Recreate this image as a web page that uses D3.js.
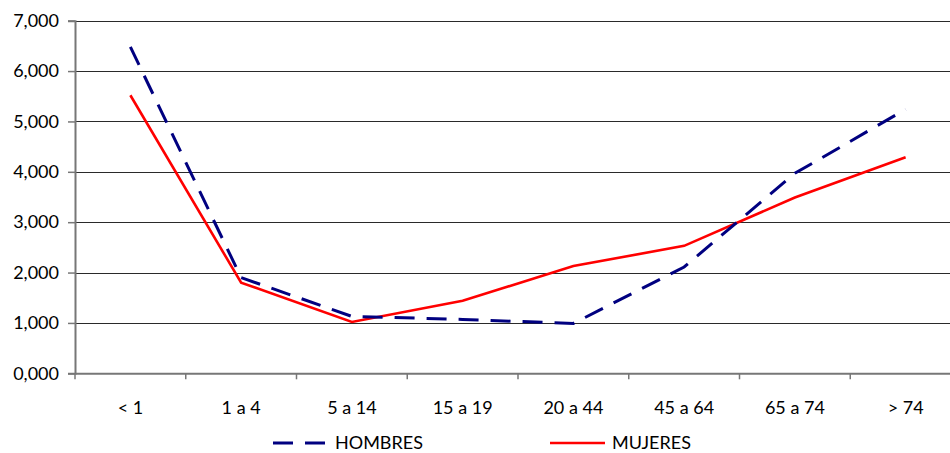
<!DOCTYPE html>
<html><head><meta charset="utf-8">
<script src="https://cdn.jsdelivr.net/npm/d3@7"></script>
<style>body{margin:0;background:#fff;}svg{display:block;font-family:Lato,"Open Sans",sans-serif;}</style>
</head><body>
<svg id="c" width="950" height="453"></svg>
<script>
const categories = ["< 1","1 a 4","5 a 14","15 a 19","20 a 44","45 a 64","65 a 74","> 74"];
const hombres = [6480,1900,1130,1070,990,2110,3970,5240];
const mujeres = [5520,1800,1020,1440,2130,2530,3490,4290];
const yTicks = [0,1000,2000,3000,4000,5000,6000,7000];
const seriesNames = ["HOMBRES","MUJERES"];

const svg = d3.select("#c");
const mLeft = 75, mRight = 961, mTop = 20.7, mBottom = 373.3;
const x = d3.scaleBand().domain(categories).range([mLeft,mRight]);
const y = d3.scaleLinear().domain([0,7000]).range([mBottom,mTop]);
const fmt = v => d3.format(".3f")(v/1000).replace(".",",");
const fs = 18;

// gridlines
svg.append("g").selectAll("line").data(yTicks.slice(1)).join("line")
  .attr("x1",mLeft).attr("x2",950).attr("y1",d=>Math.round(y(d))+0.5).attr("y2",d=>Math.round(y(d))+0.5)
  .attr("stroke","#2a2a2a").attr("stroke-width",1);

// y axis
const yAxis = svg.append("g").attr("transform",`translate(${mLeft},0)`)
  .call(d3.axisLeft(y).tickValues(yTicks).tickSize(7).tickPadding(9).tickFormat(fmt));
yAxis.select(".domain").attr("stroke","#777").attr("stroke-width",2);
yAxis.selectAll(".tick line").attr("stroke","#777").attr("stroke-width",1.5);
yAxis.selectAll("text").attr("font-size",fs).attr("fill","#000").attr("font-family","Lato");

// x axis
const xAxis = svg.append("g").attr("transform",`translate(0,${mBottom})`)
  .call(d3.axisBottom(x).tickSize(0).tickPadding(28));
xAxis.select(".domain").attr("stroke","#777").attr("stroke-width",2);
xAxis.selectAll("text").attr("font-size",fs).attr("fill","#000").attr("font-family","Lato");
svg.append("g").selectAll("line").data(categories).join("line")
  .attr("x1",d=>x(d)).attr("x2",d=>x(d)).attr("y1",mBottom).attr("y2",mBottom+6)
  .attr("stroke","#777").attr("stroke-width",1.5);

const line = d3.line().x((d,i)=>x(categories[i])+x.bandwidth()/2).y(d=>y(d));
svg.append("path").datum(mujeres).attr("d",line).attr("fill","none")
  .attr("stroke","#ff0000").attr("stroke-width",2.6);
svg.append("path").datum(hombres).attr("d",line).attr("fill","none")
  .attr("stroke","#000080").attr("stroke-width",3).attr("stroke-dasharray","20,12");

// legend
const leg = [{name:seriesNames[0],x1:273,x2:327,tx:335,color:"#000080",dash:"20,12",w:3},
             {name:seriesNames[1],x1:550,x2:605,tx:612,color:"#ff0000",dash:null,w:2.6}];
const lg = svg.append("g");
leg.forEach(l=>{
  lg.append("line").attr("x1",l.x1).attr("x2",l.x2).attr("y1",443).attr("y2",443)
    .attr("stroke",l.color).attr("stroke-width",l.w).attr("stroke-dasharray",l.dash);
  lg.append("text").attr("x",l.tx).attr("y",449).attr("font-size",fs).attr("font-family","Lato").text(l.name);
});
</script>
</body></html>
